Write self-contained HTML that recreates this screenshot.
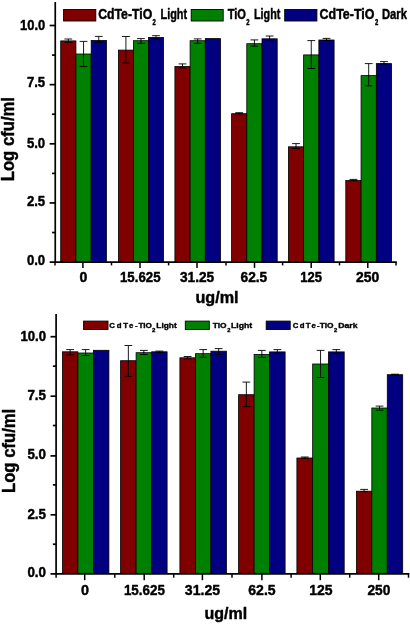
<!DOCTYPE html>
<html lang="en"><head><meta charset="utf-8"><title>Log cfu/ml vs ug/ml</title>
<style>html,body{margin:0;padding:0;background:#fff}body{width:410px;height:625px;overflow:hidden}svg{display:block;will-change:transform}text{font-family:'Liberation Sans', Arial, sans-serif;font-weight:bold;fill:#000;stroke:#000;stroke-width:0.45px;stroke-linejoin:round}</style>
</head><body>
<svg width="410" height="625" viewBox="0 0 410 625">
<rect width="410" height="625" fill="#fff"/>
<g stroke="#000" stroke-width="1.7" fill="none">
<path d="M55.25 2.0V262.95000000000005"/>
<path d="M49.65 262.1H396.8"/>
<path d="M52.05 232.53H55.25"/>
<path d="M49.65 202.95H55.25"/>
<path d="M52.05 173.38H55.25"/>
<path d="M49.65 143.80H55.25"/>
<path d="M52.05 114.23H55.25"/>
<path d="M49.65 84.65H55.25"/>
<path d="M52.05 55.08H55.25"/>
<path d="M49.65 25.50H55.25"/>
<path d="M55.00 262.1V265.40" stroke-width="1.5"/>
<path d="M111.50 262.1V265.40" stroke-width="1.5"/>
<path d="M168.60 262.1V265.40" stroke-width="1.5"/>
<path d="M226.00 262.1V265.40" stroke-width="1.5"/>
<path d="M282.60 262.1V265.40" stroke-width="1.5"/>
<path d="M339.50 262.1V265.40" stroke-width="1.5"/>
<path d="M396.00 262.1V265.40" stroke-width="1.5"/>
<path d="M82.90 262.1V267.90" stroke-width="1.5"/>
<path d="M140.00 262.1V267.90" stroke-width="1.5"/>
<path d="M197.00 262.1V267.90" stroke-width="1.5"/>
<path d="M254.50 262.1V267.90" stroke-width="1.5"/>
<path d="M311.20 262.1V267.90" stroke-width="1.5"/>
<path d="M367.80 262.1V267.90" stroke-width="1.5"/>
</g>
<rect x="60.70" y="40.90" width="15.23" height="220.60" fill="#800000" stroke="#000" stroke-width="0.8"/>
<rect x="75.93" y="54.00" width="15.23" height="207.50" fill="#008000" stroke="#000" stroke-width="0.8"/>
<rect x="91.17" y="40.40" width="15.23" height="221.10" fill="#000080" stroke="#000" stroke-width="0.8"/>
<rect x="118.40" y="50.10" width="15.03" height="211.40" fill="#800000" stroke="#000" stroke-width="0.8"/>
<rect x="133.43" y="40.70" width="15.03" height="220.80" fill="#008000" stroke="#000" stroke-width="0.8"/>
<rect x="148.47" y="37.50" width="15.03" height="224.00" fill="#000080" stroke="#000" stroke-width="0.8"/>
<rect x="174.90" y="66.50" width="15.20" height="195.00" fill="#800000" stroke="#000" stroke-width="0.8"/>
<rect x="190.10" y="40.70" width="15.20" height="220.80" fill="#008000" stroke="#000" stroke-width="0.8"/>
<rect x="205.30" y="38.60" width="15.20" height="222.90" fill="#000080" stroke="#000" stroke-width="0.8"/>
<rect x="231.60" y="113.70" width="15.20" height="147.80" fill="#800000" stroke="#000" stroke-width="0.8"/>
<rect x="246.80" y="43.70" width="15.20" height="217.80" fill="#008000" stroke="#000" stroke-width="0.8"/>
<rect x="262.00" y="38.80" width="15.20" height="222.70" fill="#000080" stroke="#000" stroke-width="0.8"/>
<rect x="288.40" y="146.80" width="15.23" height="114.70" fill="#800000" stroke="#000" stroke-width="0.8"/>
<rect x="303.63" y="54.90" width="15.23" height="206.60" fill="#008000" stroke="#000" stroke-width="0.8"/>
<rect x="318.87" y="40.00" width="15.23" height="221.50" fill="#000080" stroke="#000" stroke-width="0.8"/>
<rect x="345.80" y="180.50" width="15.27" height="81.00" fill="#800000" stroke="#000" stroke-width="0.8"/>
<rect x="361.07" y="75.60" width="15.27" height="185.90" fill="#008000" stroke="#000" stroke-width="0.8"/>
<rect x="376.33" y="63.60" width="15.27" height="197.90" fill="#000080" stroke="#000" stroke-width="0.8"/>
<g stroke="#000" stroke-width="0.9" fill="none">
<path d="M68.32 39.00V42.30M64.42 39.00h7.8M64.42 42.30h7.8"/>
<path d="M83.55 41.40V66.60M79.65 41.40h7.8M79.65 66.60h7.8"/>
<path d="M98.78 36.40V42.30M94.88 36.40h7.8M94.88 42.30h7.8"/>
<path d="M125.92 36.50V63.00M122.02 36.50h7.8M122.02 63.00h7.8"/>
<path d="M140.95 38.60V43.30M137.05 38.60h7.8M137.05 43.30h7.8"/>
<path d="M155.98 35.70V38.90M152.08 35.70h7.8M152.08 38.90h7.8"/>
<path d="M182.50 63.90V67.90M178.60 63.90h7.8M178.60 67.90h7.8"/>
<path d="M197.70 38.90V43.30M193.80 38.90h7.8M193.80 43.30h7.8"/>
<path d="M239.20 112.70V113.90M235.30 112.70h7.8M235.30 113.90h7.8"/>
<path d="M254.40 39.90V46.20M250.50 39.90h7.8M250.50 46.20h7.8"/>
<path d="M269.60 36.00V41.40M265.70 36.00h7.8M265.70 41.40h7.8"/>
<path d="M296.02 143.60V148.60M292.12 143.60h7.8M292.12 148.60h7.8"/>
<path d="M311.25 40.60V68.50M307.35 40.60h7.8M307.35 68.50h7.8"/>
<path d="M326.48 38.40V40.40M322.58 38.40h7.8M322.58 40.40h7.8"/>
<path d="M353.43 179.40V180.80M349.53 179.40h7.8M349.53 180.80h7.8"/>
<path d="M368.70 63.60V85.90M364.80 63.60h7.8M364.80 85.90h7.8"/>
<path d="M383.97 61.60V64.00M380.07 61.60h7.8M380.07 64.00h7.8"/>
</g>
<text x="45.2" y="265.10" font-size="14.6" text-anchor="end" textLength="18.3" lengthAdjust="spacingAndGlyphs">0.0</text>
<text x="45.2" y="205.65" font-size="14.6" text-anchor="end" textLength="18.3" lengthAdjust="spacingAndGlyphs">2.5</text>
<text x="45.2" y="147.50" font-size="14.6" text-anchor="end" textLength="18.3" lengthAdjust="spacingAndGlyphs">5.0</text>
<text x="45.2" y="87.35" font-size="14.6" text-anchor="end" textLength="18.3" lengthAdjust="spacingAndGlyphs">7.5</text>
<text x="45.2" y="30.10" font-size="14.6" text-anchor="end" textLength="25.2" lengthAdjust="spacingAndGlyphs">10.0</text>
<text x="83.40" y="281.8" font-size="14.3" text-anchor="middle" textLength="7.8" lengthAdjust="spacingAndGlyphs">0</text>
<text x="140.25" y="281.8" font-size="14.3" text-anchor="middle" textLength="40.5" lengthAdjust="spacingAndGlyphs">15.625</text>
<text x="197.10" y="281.8" font-size="14.3" text-anchor="middle" textLength="34.3" lengthAdjust="spacingAndGlyphs">31.25</text>
<text x="253.90" y="281.8" font-size="14.3" text-anchor="middle" textLength="26.7" lengthAdjust="spacingAndGlyphs">62.5</text>
<text x="311.10" y="281.8" font-size="14.3" text-anchor="middle" textLength="21.7" lengthAdjust="spacingAndGlyphs">125</text>
<text x="367.70" y="281.8" font-size="14.3" text-anchor="middle" textLength="23.3" lengthAdjust="spacingAndGlyphs">250</text>
<text x="195.4" y="303.2" font-size="17.0" text-anchor="start" textLength="43.2" lengthAdjust="spacingAndGlyphs">ug/ml</text>
<text transform="translate(14.3 181.3) rotate(-90)" font-size="18" textLength="84.3" lengthAdjust="spacingAndGlyphs">Log cfu/ml</text>
<rect x="63.6" y="9.5" width="32.2" height="11.5" fill="#800000" stroke="#000" stroke-width="0.9"/>
<text x="98.2" y="18.8" font-size="14.4" text-anchor="start" textLength="54.0" lengthAdjust="spacingAndGlyphs">CdTe-TiO</text>
<text x="152.6" y="25.0" font-size="8.8" text-anchor="start" textLength="3.3" lengthAdjust="spacingAndGlyphs">2</text>
<text x="160.5" y="18.8" font-size="14.4" text-anchor="start" textLength="26.6" lengthAdjust="spacingAndGlyphs">Light</text>
<rect x="191.2" y="9.5" width="32.0" height="11.5" fill="#008000" stroke="#000" stroke-width="0.9"/>
<text x="227.7" y="18.8" font-size="14.4" text-anchor="start" textLength="18.3" lengthAdjust="spacingAndGlyphs">TiO</text>
<text x="246.3" y="25.0" font-size="8.8" text-anchor="start" textLength="3.3" lengthAdjust="spacingAndGlyphs">2</text>
<text x="254.0" y="18.8" font-size="14.4" text-anchor="start" textLength="26.3" lengthAdjust="spacingAndGlyphs">Light</text>
<rect x="284.7" y="9.5" width="32.2" height="11.5" fill="#000080" stroke="#000" stroke-width="0.9"/>
<text x="319.6" y="18.8" font-size="14.4" text-anchor="start" textLength="54.8" lengthAdjust="spacingAndGlyphs">CdTe-TiO</text>
<text x="375.0" y="25.0" font-size="8.8" text-anchor="start" textLength="3.3" lengthAdjust="spacingAndGlyphs">2</text>
<text x="382.0" y="18.8" font-size="14.4" text-anchor="start" textLength="25.0" lengthAdjust="spacingAndGlyphs">Dark</text>
<g stroke="#000" stroke-width="1.7" fill="none">
<path d="M56.1 314.1V574.75"/>
<path d="M50.5 573.9H409.3"/>
<path d="M52.9 544.23H56.1"/>
<path d="M50.5 514.80H56.1"/>
<path d="M52.9 484.88H56.1"/>
<path d="M50.5 455.90H56.1"/>
<path d="M52.9 425.52H56.1"/>
<path d="M50.5 396.20H56.1"/>
<path d="M52.9 366.17H56.1"/>
<path d="M50.5 336.70H56.1"/>
<path d="M56.10 573.9V577.70" stroke-width="1.5"/>
<path d="M114.80 573.9V577.70" stroke-width="1.5"/>
<path d="M173.70 573.9V577.70" stroke-width="1.5"/>
<path d="M232.00 573.9V577.70" stroke-width="1.5"/>
<path d="M291.10 573.9V577.70" stroke-width="1.5"/>
<path d="M349.70 573.9V577.70" stroke-width="1.5"/>
<path d="M408.50 573.9V577.70" stroke-width="1.5"/>
<path d="M84.70 573.9V580.20" stroke-width="1.5"/>
<path d="M144.20 573.9V580.20" stroke-width="1.5"/>
<path d="M202.40 573.9V580.20" stroke-width="1.5"/>
<path d="M261.90 573.9V580.20" stroke-width="1.5"/>
<path d="M320.30 573.9V580.20" stroke-width="1.5"/>
<path d="M378.70 573.9V580.20" stroke-width="1.5"/>
</g>
<rect x="62.40" y="351.80" width="15.50" height="221.50" fill="#800000" stroke="#000" stroke-width="0.8"/>
<rect x="77.90" y="353.00" width="15.50" height="220.30" fill="#008000" stroke="#000" stroke-width="0.8"/>
<rect x="93.40" y="350.30" width="15.50" height="223.00" fill="#000080" stroke="#000" stroke-width="0.8"/>
<rect x="120.60" y="360.70" width="15.50" height="212.60" fill="#800000" stroke="#000" stroke-width="0.8"/>
<rect x="136.10" y="352.70" width="15.50" height="220.60" fill="#008000" stroke="#000" stroke-width="0.8"/>
<rect x="151.60" y="351.80" width="15.50" height="221.50" fill="#000080" stroke="#000" stroke-width="0.8"/>
<rect x="179.90" y="357.80" width="15.50" height="215.50" fill="#800000" stroke="#000" stroke-width="0.8"/>
<rect x="195.40" y="353.70" width="15.50" height="219.60" fill="#008000" stroke="#000" stroke-width="0.8"/>
<rect x="210.90" y="351.20" width="15.50" height="222.10" fill="#000080" stroke="#000" stroke-width="0.8"/>
<rect x="238.60" y="394.70" width="15.50" height="178.60" fill="#800000" stroke="#000" stroke-width="0.8"/>
<rect x="254.10" y="354.40" width="15.50" height="218.90" fill="#008000" stroke="#000" stroke-width="0.8"/>
<rect x="269.60" y="351.90" width="15.50" height="221.40" fill="#000080" stroke="#000" stroke-width="0.8"/>
<rect x="296.90" y="458.00" width="15.77" height="115.30" fill="#800000" stroke="#000" stroke-width="0.8"/>
<rect x="312.67" y="364.00" width="15.77" height="209.30" fill="#008000" stroke="#000" stroke-width="0.8"/>
<rect x="328.43" y="351.90" width="15.77" height="221.40" fill="#000080" stroke="#000" stroke-width="0.8"/>
<rect x="356.40" y="491.20" width="15.43" height="82.10" fill="#800000" stroke="#000" stroke-width="0.8"/>
<rect x="371.83" y="408.00" width="15.43" height="165.30" fill="#008000" stroke="#000" stroke-width="0.8"/>
<rect x="387.27" y="374.70" width="15.43" height="198.60" fill="#000080" stroke="#000" stroke-width="0.8"/>
<g stroke="#000" stroke-width="0.9" fill="none">
<path d="M70.15 349.60V354.80M66.25 349.60h7.8M66.25 354.80h7.8"/>
<path d="M85.65 349.60V355.50M81.75 349.60h7.8M81.75 355.50h7.8"/>
<path d="M128.35 345.50V376.40M124.45 345.50h7.8M124.45 376.40h7.8"/>
<path d="M143.85 350.40V354.50M139.95 350.40h7.8M139.95 354.50h7.8"/>
<path d="M159.35 351.10V352.50M155.45 351.10h7.8M155.45 352.50h7.8"/>
<path d="M187.65 356.50V358.90M183.75 356.50h7.8M183.75 358.90h7.8"/>
<path d="M203.15 349.60V357.30M199.25 349.60h7.8M199.25 357.30h7.8"/>
<path d="M218.65 348.60V354.50M214.75 348.60h7.8M214.75 354.50h7.8"/>
<path d="M246.35 382.10V406.70M242.45 382.10h7.8M242.45 406.70h7.8"/>
<path d="M261.85 350.40V357.40M257.95 350.40h7.8M257.95 357.40h7.8"/>
<path d="M277.35 349.60V353.30M273.45 349.60h7.8M273.45 353.30h7.8"/>
<path d="M304.78 457.00V458.20M300.88 457.00h7.8M300.88 458.20h7.8"/>
<path d="M320.55 350.40V377.50M316.65 350.40h7.8M316.65 377.50h7.8"/>
<path d="M336.32 349.60V353.30M332.42 349.60h7.8M332.42 353.30h7.8"/>
<path d="M364.12 489.40V491.60M360.22 489.40h7.8M360.22 491.60h7.8"/>
<path d="M379.55 406.10V410.20M375.65 406.10h7.8M375.65 410.20h7.8"/>
<path d="M394.98 374.20V375.10M391.08 374.20h7.8M391.08 375.10h7.8"/>
</g>
<text x="46.0" y="576.50" font-size="13.8" text-anchor="end" textLength="18.6" lengthAdjust="spacingAndGlyphs">0.0</text>
<text x="46.0" y="518.75" font-size="13.8" text-anchor="end" textLength="18.6" lengthAdjust="spacingAndGlyphs">2.5</text>
<text x="46.0" y="459.05" font-size="13.8" text-anchor="end" textLength="18.6" lengthAdjust="spacingAndGlyphs">5.0</text>
<text x="46.0" y="399.85" font-size="13.8" text-anchor="end" textLength="18.6" lengthAdjust="spacingAndGlyphs">7.5</text>
<text x="46.0" y="340.50" font-size="13.8" text-anchor="end" textLength="25.6" lengthAdjust="spacingAndGlyphs">10.0</text>
<text x="85.10" y="594.7" font-size="15.5" text-anchor="middle" textLength="8.0" lengthAdjust="spacingAndGlyphs">0</text>
<text x="144.40" y="594.7" font-size="15.5" text-anchor="middle" textLength="41.0" lengthAdjust="spacingAndGlyphs">15.625</text>
<text x="202.45" y="594.7" font-size="15.5" text-anchor="middle" textLength="35.3" lengthAdjust="spacingAndGlyphs">31.25</text>
<text x="261.95" y="594.7" font-size="15.5" text-anchor="middle" textLength="27.3" lengthAdjust="spacingAndGlyphs">62.5</text>
<text x="320.90" y="594.7" font-size="15.5" text-anchor="middle" textLength="23.3" lengthAdjust="spacingAndGlyphs">125</text>
<text x="378.90" y="594.7" font-size="15.5" text-anchor="middle" textLength="22.9" lengthAdjust="spacingAndGlyphs">250</text>
<text x="204.4" y="619.3" font-size="17.0" text-anchor="start" textLength="42.7" lengthAdjust="spacingAndGlyphs">ug/ml</text>
<text transform="translate(15.0 493.0) rotate(-90)" font-size="18" textLength="84.2" lengthAdjust="spacingAndGlyphs">Log cfu/ml</text>
<rect x="83.6" y="321.1" width="24.4" height="8.4" fill="#800000" stroke="#000" stroke-width="0.9"/>
<text x="109.3" y="328.4" font-size="7.8" text-anchor="start" textLength="28.4" lengthAdjust="spacing" style="stroke-width:0.35px">CdTe-</text>
<text x="138.4" y="328.4" font-size="7.8" text-anchor="start" textLength="13.5" lengthAdjust="spacingAndGlyphs" style="stroke-width:0.35px">TiO</text>
<text x="152.0" y="331.59999999999997" font-size="5.5" text-anchor="start" textLength="3.4" lengthAdjust="spacingAndGlyphs" style="stroke-width:0.35px">2</text>
<text x="156.3" y="328.4" font-size="7.8" text-anchor="start" textLength="20.4" lengthAdjust="spacingAndGlyphs" style="stroke-width:0.35px">Light</text>
<rect x="185.3" y="321.1" width="24.0" height="8.4" fill="#008000" stroke="#000" stroke-width="0.9"/>
<text x="212.8" y="328.4" font-size="7.8" text-anchor="start" textLength="13.8" lengthAdjust="spacingAndGlyphs" style="stroke-width:0.35px">TiO</text>
<text x="227.2" y="331.59999999999997" font-size="5.5" text-anchor="start" textLength="3.2" lengthAdjust="spacingAndGlyphs" style="stroke-width:0.35px">2</text>
<text x="231.0" y="328.4" font-size="7.8" text-anchor="start" textLength="21.2" lengthAdjust="spacingAndGlyphs" style="stroke-width:0.35px">Light</text>
<rect x="266.2" y="321.1" width="24.0" height="8.4" fill="#000080" stroke="#000" stroke-width="0.9"/>
<text x="292.7" y="328.4" font-size="7.8" text-anchor="start" textLength="27.0" lengthAdjust="spacing" style="stroke-width:0.35px">CdTe-</text>
<text x="319.8" y="328.4" font-size="7.8" text-anchor="start" textLength="13.8" lengthAdjust="spacingAndGlyphs" style="stroke-width:0.35px">TiO</text>
<text x="334.0" y="331.59999999999997" font-size="5.5" text-anchor="start" textLength="3.2" lengthAdjust="spacingAndGlyphs" style="stroke-width:0.35px">2</text>
<text x="338.2" y="328.4" font-size="7.8" text-anchor="start" textLength="19.4" lengthAdjust="spacingAndGlyphs" style="stroke-width:0.35px">Dark</text>
</svg></body></html>
